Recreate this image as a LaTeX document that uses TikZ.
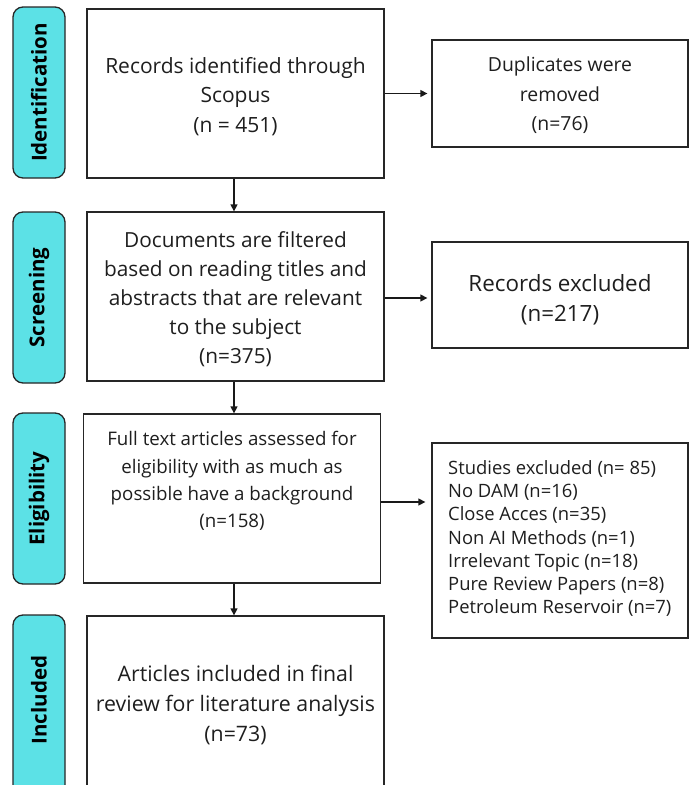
\documentclass[tikz,border=0pt]{standalone}
\usepackage{fontspec}
\setmainfont{Open Sans}
\usetikzlibrary{arrows.meta,calc}
\definecolor{labcyan}{HTML}{5CE1E6}
\definecolor{txt}{HTML}{1E1E1E}
\tikzset{
  stage/.style={draw=black!85, line width=1.3pt, fill=labcyan, rounded corners=10pt,
    minimum width=52pt, inner sep=0pt},
  stagetext/.style={rotate=90, font=\fontsize{20.5}{24}\selectfont\bfseries, text=black},
  mainbox/.style={draw=black!85, line width=1.3pt, minimum width=297pt, minimum height=169pt,
    inner sep=0pt},
  sidebox/.style={draw=black!85, line width=1.3pt, minimum width=256pt, inner sep=0pt},
  boxtext/.style={align=center, text=txt, inner sep=0pt},
  arr/.style={line width=1.3pt, draw=black!90, -{Triangle[length=7pt,width=7pt]}},
}
\begin{document}
\begin{tikzpicture}[x=1pt,y=-1pt]
\useasboundingbox (0,0) rectangle (689,785);
% stage labels
\node[stage, minimum height=171pt] (sid) at (39,92.5) {};
\node[stagetext] at (sid.center) {Identification};
\node[stage, minimum height=171pt] (ssc) at (39,297.5) {};
\node[stagetext] at (ssc.center) {Screening};
\node[stage, minimum height=171pt] (sel) at (39,498.5) {};
\node[stagetext] at (sel.center) {Eligibility};
\node[stage, minimum height=180pt] (sin) at (39,705) {};
\node[stagetext] at (39,700) {Included};
% main boxes
\node[mainbox] (b1) at (235.5,93.5) {};
\node[boxtext, font=\fontsize{21}{29.5}\selectfont] (t1) at (235.5,96.5)
  {Records identified through\\Scopus\\(n = 451)};
\node[mainbox] (b2) at (235.5,296.5) {};
\node[boxtext, font=\fontsize{20.8}{29}\selectfont] (t2) at (235.5,299.5)
  {Documents are filtered\\based on reading titles and\\abstracts that are relevant\\to the subject\\(n=375)};
\node[mainbox] (b3) at (232,498.5) {};
\node[boxtext, font=\fontsize{18.7}{27.3}\selectfont] (t3) at (232,481)
  {Full text articles assessed for\\eligibility with as much as\\possible have a background\\(n=158)};
\node[mainbox, minimum height=175pt] (b4) at (235.5,703.5) {};
\node[boxtext, font=\fontsize{21.3}{30}\selectfont] (t4) at (235.5,705)
  {Articles included in final\\review for literature analysis\\(n=73)};
% side boxes
\node[sidebox, minimum height=107pt] (r1) at (560,93.5) {};
\node[boxtext, font=\fontsize{19.4}{29.5}\selectfont] (t5) at (560,95.5)
  {Duplicates were\\removed\\(n=76)};
\node[sidebox, minimum height=106pt] (r2) at (560,295) {};
\node[boxtext, font=\fontsize{22.4}{30}\selectfont] (t6) at (560,299.5)
  {Records excluded\\(n=217)};
\node[sidebox, minimum height=195pt] (r3) at (560,540.5) {};
\node[align=left, anchor=west, text=txt, inner sep=0pt, font=\fontsize{18.4}{23.2}\selectfont] (t7) at (448,538.5)
  {Studies excluded (n= 85)\\No DAM (n=16)\\Close Acces (n=35)\\Non AI Methods (n=1)\\Irrelevant Topic (n=18)\\Pure Review Papers (n=8)\\Petroleum Reservoir (n=7)};
% arrows
\draw[arr] (b1.south -| 234,0) -- (b2.north -| 234,0);
\draw[arr] (b2.south -| 234,0) -- (b3.north -| 234,0);
\draw[arr] (b3.south -| 234,0) -- (b4.north -| 234,0);
\draw[arr, shorten >=4pt] (b1.east) -- (r1.west |- b1.east);
\draw[arr, shorten >=4pt] (b2.east |- 0,298) -- (r2.west |- 0,298);
\draw[arr, shorten >=6pt] (b3.east |- 0,502) -- (r3.west |- 0,502);
\end{tikzpicture}
\end{document}
